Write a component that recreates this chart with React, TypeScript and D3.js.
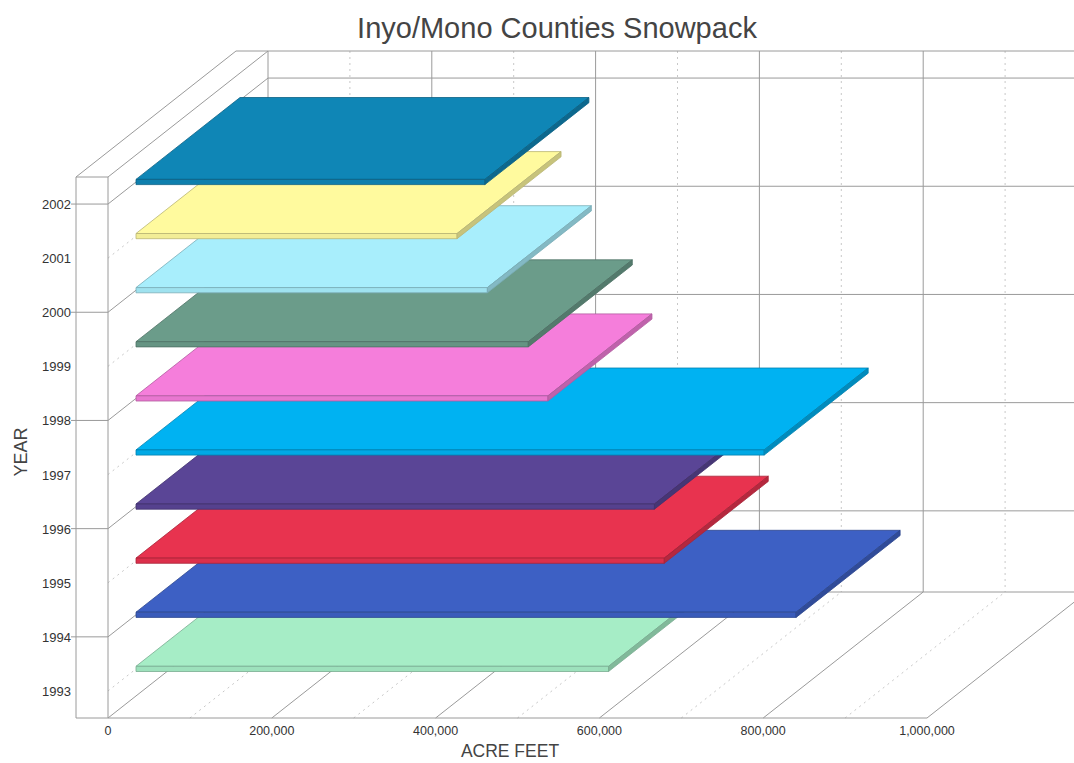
import * as d3 from "d3";

// data
const years = [1993, 1994, 1995, 1996, 1997, 1998, 1999, 2000, 2001, 2002];
const snowpack = [577000, 806000, 645000, 633000, 767000, 503000, 479000, 429000, 392000, 426000];
const slabColors = [
  "#a6edc6",
  "#3d60c4",
  "#e8334f",
  "#5a4596",
  "#00b2f2",
  "#f57edb",
  "#6b9c8a",
  "#a8eefc",
  "#fffa9e",
  "#0f86b6",
];
const xTicks = [0, 200000, 400000, 600000, 800000, 1000000];
const xMinor = [100000, 300000, 500000, 700000, 900000];
const evenYears = [1994, 1996, 1998, 2000, 2002];
const oddYears = [1993, 1995, 1997, 1999, 2001];

const W = 1074;
const H = 763;
const DX = 160; // full depth offset
const DY = -126;
const F1 = 0.175; // slab front depth
const F2 = 0.825; // slab back depth
const HALF = 2.6; // half slab thickness in px
const WALL = 32; // left wall thickness

const x = d3.scaleLinear().domain([0, 1000000]).range([108, 927]);
const y = d3.scaleLinear().domain([1992.5, 2002.5]).range([718, 177]);

const P = (v: number, f: number, yy: number): [number, number] => [x(v) + DX * f, yy + DY * f];
const poly = (pts: [number, number][]) => "M" + pts.map((p) => p.join(",")).join("L") + "Z";

const App = () => {
  const fmt = d3.format(",");
  const grid = "#9a9a9a";
  const dotted = "#c8c8c8";
  const x0 = x(0);
  const yTop = y(2002.5);
  const yBot = y(1992.5);

  return (
    <div style={{ position: "absolute", left: 0, top: 0 }}>
      <svg width={W} height={H} style={{ display: "block", background: "#fff" }} fontFamily="Liberation Sans, Arial, sans-serif">
        <text x={557} y={38} textAnchor="middle" fontSize={29} fill="#444">
          Inyo/Mono Counties Snowpack
        </text>

        {/* back wall */}
        <g stroke={grid} strokeWidth={1} fill="none">
          {xMinor.map((v) => (
            <line key={"bm" + v} x1={x(v) + DX} x2={x(v) + DX} y1={yTop + DY} y2={yBot + DY} stroke={dotted} strokeDasharray="2,4" />
          ))}
          {xTicks.map((v) => (
            <line key={"bv" + v} x1={x(v) + DX} x2={x(v) + DX} y1={yTop + DY} y2={yBot + DY} />
          ))}
          {[...evenYears, 1992.5].map((yr) => (
            <line key={"bh" + yr} x1={x0 + DX} x2={W} y1={y(yr) + DY} y2={y(yr) + DY} />
          ))}
          <line x1={x0 + DX - WALL} x2={W} y1={yTop + DY} y2={yTop + DY} />
        </g>

        {/* floor */}
        <g stroke={grid} strokeWidth={1} fill="none">
          {xMinor.map((v) => (
            <line key={"fm" + v} x1={x(v)} y1={yBot} x2={x(v) + DX} y2={yBot + DY} stroke={dotted} strokeDasharray="2,4" />
          ))}
          {xTicks.map((v) => (
            <line key={"fv" + v} x1={x(v)} y1={yBot} x2={x(v) + DX} y2={yBot + DY} />
          ))}
          <line x1={x0 - WALL} x2={x(1000000)} y1={yBot} y2={yBot} />
        </g>

        {/* left wall */}
        <g stroke={grid} strokeWidth={1} fill="none">
          {oddYears.map((yr) => (
            <line key={"lm" + yr} x1={x0} y1={y(yr)} x2={x0 + DX} y2={y(yr) + DY} stroke={dotted} strokeDasharray="2,4" />
          ))}
          {evenYears.map((yr) => (
            <line key={"lv" + yr} x1={x0} y1={y(yr)} x2={x0 + DX} y2={y(yr) + DY} />
          ))}
          {evenYears.map((yr) => (
            <line key={"lt" + yr} x1={x0 - WALL - 5} y1={y(yr)} x2={x0} y2={y(yr)} />
          ))}
          <line x1={x0} x2={x0} y1={yTop} y2={yBot} />
          <line x1={x0 - WALL} x2={x0 - WALL} y1={yTop} y2={yBot} />
          <line x1={x0 - WALL} x2={x0} y1={yTop} y2={yTop} />
          <line x1={x0} y1={yTop} x2={x0 + DX} y2={yTop + DY} />
          <line x1={x0 - WALL} y1={yTop} x2={x0 - WALL + DX} y2={yTop + DY} />
        </g>

        {/* slabs, bottom year first so upper slabs cover lower ones */}
        {years.map((yr, i) => {
          const v = snowpack[i];
          const c = d3.color(slabColors[i])!;
          const top = y(yr) - HALF;
          const bot = y(yr) + HALF;
          const edge = c.darker(0.9).formatHex();
          const side = c.darker(0.7).formatHex();
          const front = c.darker(0.15).formatHex();
          return (
            <g key={yr} strokeWidth={0.8} stroke={edge} strokeLinejoin="round">
              <path d={poly([P(0, F1, top), P(v, F1, top), P(v, F2, top), P(0, F2, top)])} fill={slabColors[i]} />
              <path d={poly([P(0, F1, top), P(v, F1, top), P(v, F1, bot), P(0, F1, bot)])} fill={front} />
              <path d={poly([P(v, F1, top), P(v, F2, top), P(v, F2, bot), P(v, F1, bot)])} fill={side} />
            </g>
          );
        })}

        {/* tick labels */}
        <g fill="#333">
          {xTicks.map((v) => (
            <text key={"xl" + v} x={x(v)} y={735} textAnchor="middle" fontSize={12.5}>
              {fmt(v)}
            </text>
          ))}
          {years.map((yr) => (
            <text key={"yl" + yr} x={71} y={y(yr) + 5} textAnchor="end" fontSize={13}>
              {yr}
            </text>
          ))}
        </g>
        <text x={510} y={757} textAnchor="middle" fontSize={17.5} fill="#444">
          ACRE FEET
        </text>
        <text transform="translate(27,452) rotate(-90)" textAnchor="middle" fontSize={18} fill="#444">
          YEAR
        </text>
      </svg>
    </div>
  );
};

export default App;
